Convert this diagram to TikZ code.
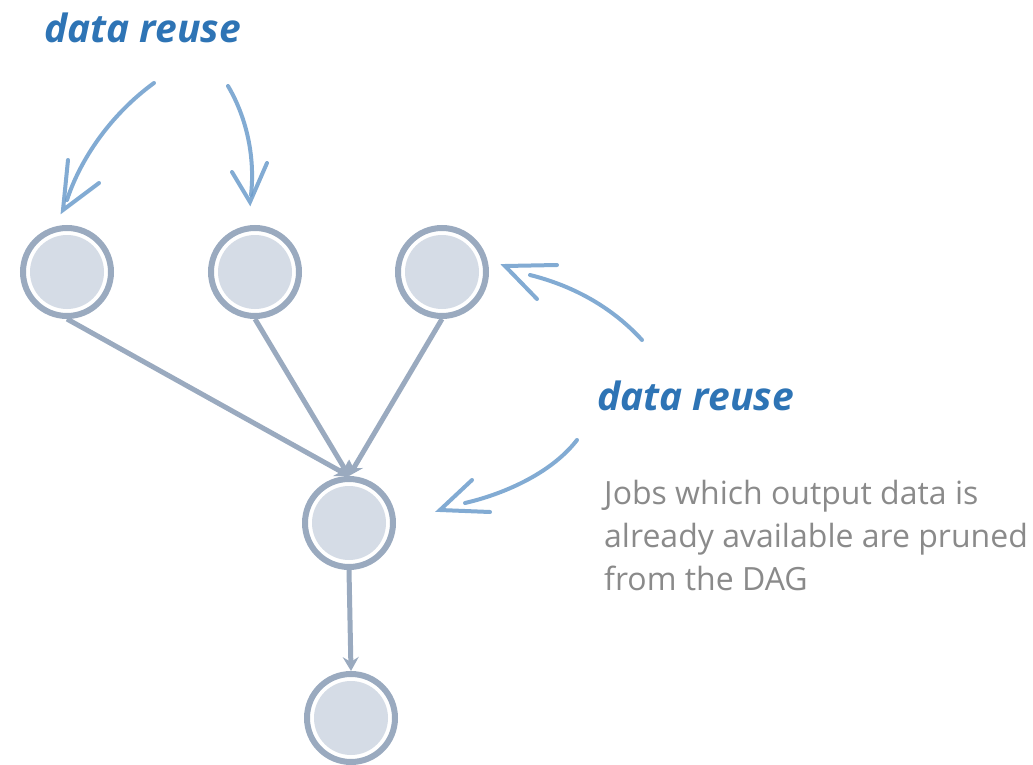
\documentclass[tikz,border=0pt]{standalone}
\usepackage{fontspec}
\setmainfont{Open Sans}
\usetikzlibrary{arrows.meta}
\definecolor{ringc}{HTML}{9AAABF}
\definecolor{fillc}{HTML}{D5DCE6}
\definecolor{titlec}{HTML}{2E74B5}
\definecolor{handc}{HTML}{6C9CCB}
\definecolor{bodyc}{HTML}{8A8A8A}
\tikzset{
  job/.style={circle, draw=ringc, line width=6pt, fill=white, minimum size=88pt, inner sep=0pt,
    path picture={\fill[fillc] (path picture bounding box.center) circle (37pt);}},
  edge/.style={draw=ringc, line width=5pt, -{Stealth[length=14pt,width=16pt,inset=5pt]}},
  hand/.style={draw=handc, line width=4pt, line cap=round, opacity=0.85},
  title/.style={text=titlec, font=\fontsize{39}{44}\selectfont\bfseries\itshape, inner sep=0pt},
  body/.style={text=bodyc, font=\fontsize{32}{43}\selectfont, align=left, inner sep=0pt}
}
\begin{document}
\begin{tikzpicture}[x=1pt,y=-1pt]
\useasboundingbox (0,0) rectangle (1033,765);
% job nodes
\node[job] (n1) at (67,272) {};
\node[job] (n2) at (255,272) {};
\node[job] (n3) at (442,272) {};
\node[job] (n4) at (349,523) {};
\node[job] (n5) at (351,718) {};
% edges
\draw[edge] (n1.south) -- (n4.north);
\draw[edge] (n2.south) -- (n4.north);
\draw[edge] (n3.south) -- (n4.north);
\draw[edge] (n4.south) -- (n5.north);
% labels
\node[title, anchor=base west] (t1) at (44,43) {data reuse};
\node[title, anchor=base west] (t2) at (597,410) {data reuse};
\node[body, anchor=north west] (b) at (604,480) {Jobs which output data is\\already available are pruned\\from the DAG};
% hand-drawn arrows
\coordinate (a1s) at (154,83);
\coordinate (a1t) at (63,210);
\draw[hand] (a1s) .. controls (110,115) and (80,160) .. (67,200);
\draw[hand] (68,160) -- (a1t) -- (99,183);
\coordinate (a2s) at (228,86);
\coordinate (a2t) at (250,202);
\draw[hand] (a2s) .. controls (248,120) and (255,160) .. (251,195);
\draw[hand] (232,172) -- (a2t) -- (267,163);
\coordinate (a3s) at (642,340);
\coordinate (a3t) at (505,266);
\draw[hand] (a3s) .. controls (610,305) and (570,285) .. (530,275);
\draw[hand] (557,265) -- (a3t) -- (537,299);
\coordinate (a4s) at (577,440);
\coordinate (a4t) at (440,510);
\draw[hand] (a4s) .. controls (550,475) and (500,495) .. (465,503);
\draw[hand] (490,512) -- (a4t) -- (472,480);
\end{tikzpicture}
\end{document}
